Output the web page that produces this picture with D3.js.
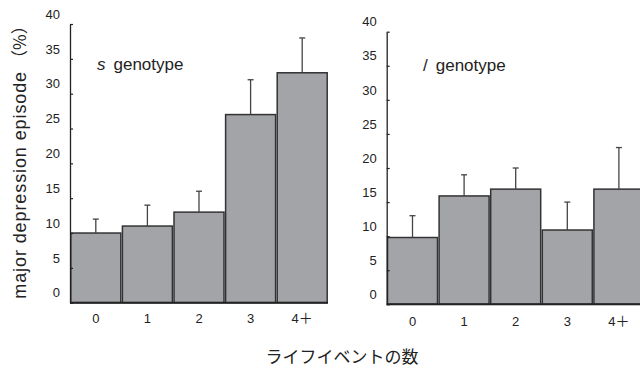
<!DOCTYPE html>
<html>
<head>
<meta charset="utf-8">
<script src="https://cdn.jsdelivr.net/npm/d3@7"></script>
<style>
  body { margin: 0; background: #fff; }
  svg { display: block; }
  text { font-family: "Liberation Sans", Arial, sans-serif; fill: #222; }
</style>
</head>
<body>
<svg id="chart" width="640" height="369"></svg>
<script>
const categories = ["0", "1", "2", "3", "4＋"];
const sValues = [10, 11, 13, 27, 33];
const sErrorTop = [12, 14, 16, 32, 38];
const lValues = [9.8, 15.9, 16.9, 10.9, 16.9];
const lErrorTop = [13, 19, 20, 15, 23];
const yTicks = [0, 5, 10, 15, 20, 25, 30, 35, 40];
const panelLabels = [{mark: "s", italic: true, text: "genotype"}, {mark: "/", italic: false, text: "genotype"}];
const yTitleParts = ["major depression episode", "（%）"];
const xTitle = "ライフイベントの数";

const svg = d3.select("#chart");
const cjk = "'Noto Sans CJK JP', sans-serif";

const panels = [
  {x0: 70, x1: 328, y0: 302.7, y1: 24, values: sValues, err: sErrorTop, label: panelLabels[0], lx: 97, ly: 70, xlOff: 16},
  {x0: 386.7, x1: 644.7, y0: 304.3, y1: 31.7, values: lValues, err: lErrorTop, label: panelLabels[1], lx: 423, ly: 71, xlOff: 17}
];

panels.forEach(p => {
  const x = d3.scaleBand().domain(categories).range([p.x0, p.x1]).padding(0);
  const y = d3.scaleLinear().domain([0, 40]).range([p.y0, p.y1]);
  const g = svg.append("g");

  g.selectAll("rect.bar").data(categories).join("rect")
    .attr("class", "bar")
    .attr("x", d => x(d) + 0.8)
    .attr("width", x.bandwidth() - 1.6)
    .attr("y", (d, i) => y(p.values[i]))
    .attr("height", (d, i) => y(0) - y(p.values[i]))
    .attr("fill", "#a3a4a8")
    .attr("stroke", "#333")
    .attr("stroke-width", 1.5);

  g.selectAll("line.err").data(categories).join("line")
    .attr("class", "err")
    .attr("x1", d => x(d) + x.bandwidth() / 2)
    .attr("x2", d => x(d) + x.bandwidth() / 2)
    .attr("y1", (d, i) => y(p.values[i]))
    .attr("y2", (d, i) => y(p.err[i]))
    .attr("stroke", "#444").attr("stroke-width", 1.3);
  g.selectAll("line.cap").data(categories).join("line")
    .attr("class", "cap")
    .attr("x1", d => x(d) + x.bandwidth() / 2 - 3)
    .attr("x2", d => x(d) + x.bandwidth() / 2 + 3)
    .attr("y1", (d, i) => y(p.err[i]))
    .attr("y2", (d, i) => y(p.err[i]))
    .attr("stroke", "#444").attr("stroke-width", 1.3);

  const ya = g.append("g").attr("transform", `translate(${p.x0},0)`)
    .call(d3.axisLeft(y).tickValues(yTicks).tickSizeInner(-3).tickSizeOuter(0).tickPadding(10));
  ya.select(".domain").attr("stroke", "#222").attr("stroke-width", 1.3);
  ya.selectAll(".tick line").attr("stroke", "#222").attr("stroke-width", 1.2);
  ya.selectAll(".tick text").attr("y", -10).style("font-size", "13px")
    .style("font-family", "'Liberation Sans', Arial, sans-serif").attr("fill", "#222");

  g.append("line").attr("x1", p.x0).attr("x2", p.x1).attr("y1", y(0)).attr("y2", y(0))
    .attr("stroke", "#222").attr("stroke-width", 2);

  const xl = g.selectAll("text.xl").data(categories).join("text")
    .attr("class", "xl")
    .attr("x", d => x(d) + x.bandwidth() / 2)
    .attr("y", y(0) + p.xlOff)
    .attr("dy", "0.35em")
    .attr("text-anchor", "middle")
    .style("font-size", "13px");
  xl.each(function(d) {
    const el = d3.select(this);
    const m = d.match(/^(\d+)(＋?)$/);
    el.append("tspan").text(m[1]);
    if (m[2]) el.append("tspan").style("font-family", cjk).style("font-size", "14px").text(m[2]);
  });

  const t = g.append("text").attr("x", p.lx).attr("y", p.ly).style("font-size", "17px");
  t.append("tspan").style("font-style", p.label.italic ? "italic" : "normal").text(p.label.mark);
  t.append("tspan").attr("dx", 8).text(p.label.text);
});

const yt = svg.append("text")
  .attr("transform", "translate(26,158) rotate(-90)")
  .attr("text-anchor", "middle")
  .style("font-size", "18px");
yt.append("tspan").style("letter-spacing", "0.9px").text(yTitleParts[0]);
yt.append("tspan").attr("dx", 4).style("font-family", cjk).style("font-size", "17px").text(yTitleParts[1]);

svg.append("text")
  .attr("x", 342).attr("y", 363)
  .attr("text-anchor", "middle")
  .style("font-size", "17px")
  .style("font-family", cjk)
  .text(xTitle);
</script>
</body>
</html>
